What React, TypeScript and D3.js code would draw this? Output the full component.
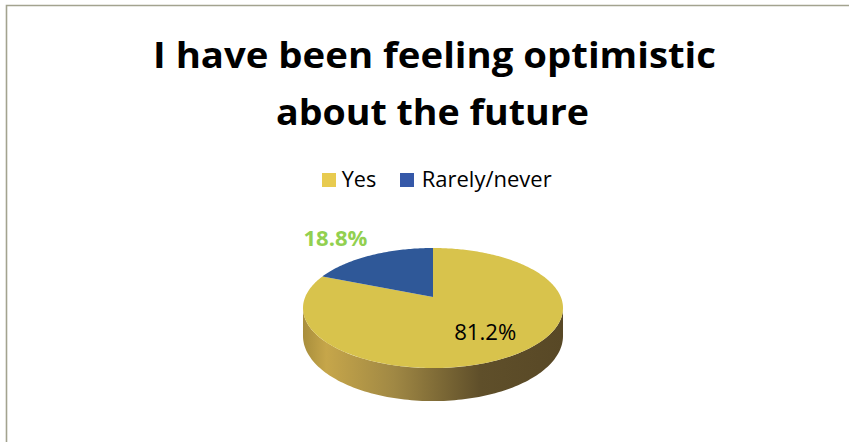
import React from "react";
import * as d3 from "d3";

const title = ["I have been feeling optimistic", "about the future"];
const categories = ["Yes", "Rarely/never"];
const values = [81.2, 18.8];
const topColors = ["#d8c34c", "#2f5898"];
const legendColors = ["#e8cb4f", "#3558a8"];

const W = 849;
const H = 442;
const FONT = "'Open Sans', Lato, sans-serif";

// perspective pie geometry
const cx = 433;
const cy = 297;
const R = 127.8;
const K = 58;
const dP = 5.45;
const depth = 27;

function proj(x: number, y: number, h = 0): [number, number] {
  const s = dP / (dP + y);
  return [cx + R * x * s, cy - K * y * s + h * s];
}

function arcPoints(a0: number, a1: number, r = 1, h = 0): [number, number][] {
  const n = Math.max(2, Math.ceil(((a1 - a0) * 180) / Math.PI));
  const pts: [number, number][] = [];
  for (let i = 0; i <= n; i++) {
    const a = a0 + ((a1 - a0) * i) / n;
    pts.push(proj(r * Math.sin(a), r * Math.cos(a), h));
  }
  return pts;
}

export default function App() {
  const pie = d3.pie<number>().sort(null).startAngle(0).endAngle(2 * Math.PI);
  const arcs = pie(values);
  const line = d3.line();

  // side wall (front visible part)
  const e = Math.asin(1 / dP);
  const tA = Math.PI + e;
  const tB = 2 * Math.PI - e;
  const topEdge: [number, number][] = [];
  const botEdge: [number, number][] = [];
  const N = 120;
  for (let i = 0; i <= N; i++) {
    const t = tA + ((tB - tA) * i) / N;
    topEdge.push(proj(Math.cos(t), Math.sin(t)));
    botEdge.push(proj(Math.cos(t), Math.sin(t), depth));
  }
  const sidePath = line([...topEdge, ...botEdge.reverse()])! + "Z";
  const leftX = topEdge[0][0];
  const rightX = topEdge[topEdge.length - 1][0];

  const labelPos = (i: number) => {
    const a = (arcs[i].startAngle + arcs[i].endAngle) / 2;
    const r = i === 0 ? 0.66 : 1.45;
    return proj(r * Math.sin(a), r * Math.cos(a));
  };
  const p0 = labelPos(0);
  const p1 = labelPos(1);

  return (
    <svg
      width={W}
      height={H}
      style={{ position: "absolute", left: 0, top: 0, background: "#fff" }}
    >
      <defs>
        <linearGradient id="sideGrad" gradientUnits="userSpaceOnUse" x1={leftX} x2={rightX} y1={0} y2={0}>
          <stop offset="0%" stopColor="#a88e3c" />
          <stop offset="9%" stopColor="#c6a64a" />
          <stop offset="35%" stopColor="#a08844" />
          <stop offset="68%" stopColor="#5f4f2a" />
          <stop offset="100%" stopColor="#584826" />
        </linearGradient>
      </defs>
      <path d={`M6.5,${H} V5.5 H${W}`} fill="none" stroke="#a3a38f" strokeWidth={1.6} />

      {title.map((t, i) => (
        <text
          key={i}
          x={i === 0 ? 153 : 276}
          y={i === 0 ? 67.5 : 125}
          fontFamily={FONT}
          fontWeight="bold"
          fontSize={36.5}
          fill="#000"
          textLength={i === 0 ? 563 : 313}
          lengthAdjust="spacingAndGlyphs"
        >
          {t}
        </text>
      ))}

      {/* legend */}
      {categories.map((c, i) => (
        <g key={c}>
          <rect x={i === 0 ? 322 : 400} y={173} width={14} height={14} fill={legendColors[i]} />
          <text
            x={i === 0 ? 341.7 : 421.7}
            y={187.3}
            fontFamily={FONT}
            fontSize={21.5}
            fill="#000"
            textLength={i === 0 ? 34.5 : 130}
            lengthAdjust="spacingAndGlyphs"
          >
            {c}
          </text>
        </g>
      ))}

      {/* side */}
      <path d={sidePath} fill="url(#sideGrad)" />

      {/* top face */}
      {arcs.map((a, i) => {
        const pts: [number, number][] = [[cx, cy], ...arcPoints(a.startAngle, a.endAngle)];
        return <path key={i} d={line(pts)! + "Z"} fill={topColors[i]} />;
      })}

      {/* labels */}
      <text
        x={p0[0]}
        y={p0[1] + 8}
        textAnchor="middle"
        fontFamily={FONT}
        fontSize={21.5}
        fill="#000"
        textLength={62}
        lengthAdjust="spacingAndGlyphs"
      >
        {values[0].toFixed(1) + "%"}
      </text>
      <text
        x={p1[0] - 13}
        y={p1[1] + 6.5}
        textAnchor="middle"
        fontFamily={FONT}
        fontWeight="bold"
        fontSize={21}
        fill="#92d050"
        textLength={64}
        lengthAdjust="spacingAndGlyphs"
      >
        {values[1].toFixed(1) + "%"}
      </text>
    </svg>
  );
}
